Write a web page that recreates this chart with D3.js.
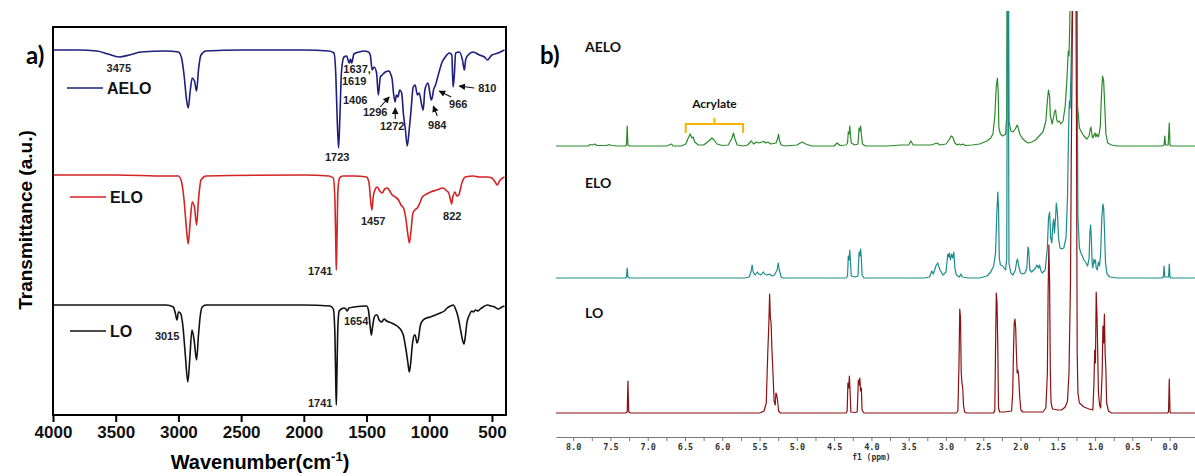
<!DOCTYPE html>
<html>
<head>
<meta charset="utf-8">
<script src="https://cdn.jsdelivr.net/npm/d3@7"></script>
<style>
  body { margin: 0; background: #fff; }
  svg { display: block; }
</style>
</head>
<body>
<svg id="fig" width="1195" height="476"></svg>
<script>
// ---- panel a) FTIR, [wavenumber, transmittance a.u.] ----
var ftirAELO = [[4000,365],[3800,365],[3650,364],[3560,361],[3475,358],[3390,360],[3300,363],[3100,364],[3000,363],[2975,357],[2955,340],[2935,315],[2922,307],[2905,325],[2890,337],[2872,334],[2855,324],[2840,345],[2820,360],[2780,364],[2500,365],[2000,365],[1800,364],[1760,362],[1745,340],[1735,300],[1723,267],[1712,300],[1700,343],[1680,358],[1660,359],[1637,352],[1628,356],[1619,352],[1600,361],[1560,363],[1520,364],[1485,363],[1470,360],[1455,345],[1440,348],[1420,342],[1406,320],[1390,338],[1375,340],[1350,343],[1320,344],[1305,340],[1296,336],[1285,322],[1272,313],[1262,320],[1250,318],[1235,325],[1220,322],[1205,300],[1190,285],[1175,269],[1160,285],[1145,305],[1128,328],[1112,330],[1095,320],[1080,322],[1060,310],[1048,305],[1035,325],[1010,332],[995,322],[984,315],[975,318],[966,325],[950,330],[928,340],[900,352],[872,358],[840,362],[820,360],[810,328],[800,340],[790,362],[760,363],[735,355],[720,345],[710,355],[690,360],[650,363],[600,360],[560,358],[535,355],[520,357],[500,360],[450,362],[400,365]];
var ftirELO = [[4000,240],[3500,240],[3100,239],[3000,239],[2975,233],[2955,215],[2935,185],[2922,171],[2905,195],[2890,213],[2872,208],[2855,190],[2840,215],[2820,235],[2780,239],[2000,240],[1800,239],[1765,237],[1752,215],[1745,170],[1741,145],[1736,175],[1728,225],[1715,237],[1690,239],[1600,239],[1500,238],[1480,232],[1468,215],[1457,205],[1447,218],[1430,226],[1415,228],[1395,224],[1375,222],[1355,226],[1335,227],[1315,224],[1295,220],[1270,218],[1245,215],[1225,210],[1205,207],[1185,195],[1170,180],[1158,172],[1145,185],[1130,202],[1115,205],[1095,207],[1075,212],[1055,218],[1020,221],[990,223],[940,225],[890,227],[860,224],[845,222],[830,215],[822,211],[812,218],[795,223],[780,219],[765,220],[740,232],[713,238],[650,239],[600,238],[540,238],[500,237],[475,233],[457,230],[440,234],[400,238]];
var ftirLO = [[4000,110],[3500,110],[3100,110],[3040,108],[3025,102],[3011,95],[3000,103],[2985,102],[2965,90],[2945,60],[2925,33],[2910,55],[2892,85],[2875,75],[2855,55],[2840,80],[2825,100],[2810,108],[2780,110],[2000,110],[1790,109],[1765,106],[1752,80],[1745,30],[1741,10],[1737,35],[1728,90],[1718,104],[1700,106],[1680,107],[1665,106],[1654,104],[1640,107],[1600,108],[1500,109],[1485,105],[1472,90],[1462,80],[1452,88],[1440,97],[1425,100],[1415,100],[1400,95],[1380,93],[1360,96],[1340,94],[1300,92],[1270,90],[1246,88],[1225,85],[1207,80],[1185,65],[1170,52],[1159,43],[1148,52],[1135,70],[1120,80],[1112,80],[1098,72],[1088,75],[1070,90],[1048,95],[1020,97],[992,98],[950,100],[912,102],[880,104],[857,107],[830,109],[808,110],[790,106],[770,98],[750,85],[735,75],[723,71],[713,78],[700,92],[680,100],[660,104],[649,103],[630,105],[610,104],[593,106],[570,108],[537,110],[510,109],[480,108],[450,106],[420,108],[400,109]];
var ftirTicks = [4000, 3500, 3000, 2500, 2000, 1500, 1000, 500];
var ftirNames = ["AELO", "ELO", "LO"];

// ---- panel b) 1H NMR, [ppm, intensity] ----
var nmrAELO = [[8.23,0],[7.80,0],[7.77,1.5],[7.74,1],[7.71,2],[7.68,0.5],[7.55,0.5],[7.52,1.5],[7.49,0.5],[7.40,0],[7.30,0],[7.285,1],[7.275,20],[7.265,1],[7.24,0],[6.75,0],[6.68,2],[6.66,0],[6.55,0],[6.49,2],[6.45,9],[6.43,12],[6.41,8],[6.39,9],[6.37,4],[6.32,1],[6.25,1],[6.18,5],[6.14,8],[6.11,6],[6.07,2],[6.00,0.5],[5.92,1],[5.87,8],[5.85,13],[5.83,7],[5.80,1],[5.72,0],[5.66,1],[5.61,5],[5.58,2],[5.54,4],[5.51,3],[5.47,4],[5.44,4.5],[5.42,3],[5.39,4],[5.35,2],[5.28,3],[5.255,8],[5.245,12],[5.235,6],[5.21,1],[5.15,0],[5.00,1],[4.93,4],[4.88,2],[4.80,0],[4.50,0],[4.46,3],[4.42,0.5],[4.34,1],[4.32,3],[4.31,14],[4.30,12],[4.29,20],[4.28,10],[4.27,3],[4.22,1],[4.18,2],[4.165,18],[4.155,15],[4.145,20],[4.135,12],[4.12,2],[4.08,0],[3.80,0],[3.60,1],[3.50,1],[3.47,5],[3.44,1],[3.35,1],[3.20,1],[3.12,3],[3.08,1],[3.00,2],[2.96,6],[2.93,10],[2.91,9],[2.88,3],[2.85,1],[2.82,2],[2.80,1],[2.77,2],[2.74,0.5],[2.65,1],[2.55,2],[2.45,5],[2.40,8],[2.37,12],[2.345,30],[2.325,60],[2.31,68],[2.30,55],[2.29,18],[2.27,12],[2.24,10],[2.20,12],[2.185,30],[2.175,300],[2.165,300],[2.155,25],[2.13,15],[2.10,14],[2.07,17],[2.045,21],[2.03,18],[2.01,12],[1.98,8],[1.94,5],[1.90,3],[1.85,4],[1.80,6],[1.75,10],[1.70,14],[1.66,25],[1.64,45],[1.625,56],[1.61,50],[1.60,30],[1.575,22],[1.56,28],[1.545,34],[1.53,36],[1.515,26],[1.50,24],[1.48,25],[1.46,22],[1.43,25],[1.40,40],[1.375,70],[1.36,95],[1.35,90],[1.34,120],[1.32,250],[1.30,300],[1.28,320],[1.26,330],[1.25,260],[1.235,40],[1.21,18],[1.19,15],[1.15,10],[1.11,7],[1.08,10],[1.065,17],[1.055,19],[1.04,10],[1.03,8],[1.01,12],[1.00,13],[0.99,9],[0.975,12],[0.96,9],[0.945,12],[0.93,20],[0.915,50],[0.90,70],[0.885,65],[0.87,40],[0.855,12],[0.83,3],[0.78,1],[0.70,0],[0.10,0],[0.075,1],[0.065,10],[0.055,1],[0.02,1],[0.005,23],[-0.005,1],[-0.02,0],[-0.34,0]];
var nmrELO = [[8.23,0],[7.30,0],[7.285,1],[7.275,10],[7.265,1],[7.24,0],[5.70,0],[5.64,1],[5.615,6],[5.60,13],[5.585,6],[5.56,3],[5.53,6],[5.51,4],[5.48,3],[5.45,6],[5.43,4],[5.40,3],[5.37,4],[5.33,2],[5.30,3],[5.265,8],[5.25,15],[5.235,8],[5.21,1],[5.18,0],[4.34,0],[4.32,2],[4.31,22],[4.30,18],[4.29,28],[4.28,15],[4.27,2],[4.22,1],[4.18,2],[4.165,26],[4.155,22],[4.145,29],[4.135,20],[4.125,3],[4.10,0],[3.30,0],[3.22,1],[3.19,7],[3.17,4],[3.13,13],[3.11,15],[3.08,8],[3.04,3],[3.00,6],[2.975,24],[2.965,21],[2.955,25],[2.94,18],[2.925,24],[2.91,20],[2.895,26],[2.88,10],[2.86,3],[2.82,1],[2.80,4],[2.78,1],[2.70,0],[2.55,0],[2.45,2],[2.40,6],[2.36,12],[2.335,25],[2.32,60],[2.305,86],[2.295,70],[2.285,20],[2.27,13],[2.24,12],[2.20,8],[2.185,20],[2.175,300],[2.165,300],[2.155,15],[2.13,5],[2.10,3],[2.07,8],[2.05,17],[2.04,19],[2.025,12],[2.00,5],[1.97,4],[1.94,5],[1.915,10],[1.90,31],[1.89,28],[1.875,8],[1.85,6],[1.80,10],[1.78,13],[1.76,10],[1.745,13],[1.73,8],[1.71,5],[1.67,8],[1.64,30],[1.625,60],[1.61,66],[1.595,40],[1.58,35],[1.565,55],[1.555,59],[1.545,45],[1.53,60],[1.52,75],[1.505,65],[1.49,40],[1.47,30],[1.45,29],[1.42,30],[1.39,40],[1.37,80],[1.355,150],[1.345,177],[1.335,170],[1.32,220],[1.30,300],[1.28,320],[1.26,330],[1.245,280],[1.23,60],[1.21,30],[1.19,25],[1.17,22],[1.15,18],[1.12,15],[1.10,12],[1.08,20],[1.07,45],[1.06,53],[1.05,40],[1.04,15],[1.03,10],[1.015,19],[1.005,15],[0.995,18],[0.985,10],[0.97,8],[0.955,16],[0.94,12],[0.925,25],[0.91,60],[0.895,74],[0.885,70],[0.875,50],[0.86,15],[0.84,4],[0.80,1],[0.70,0],[0.10,0],[0.085,1],[0.075,12],[0.065,1],[0.015,1],[0.005,14],[-0.005,1],[-0.02,0],[-0.34,0]];
var nmrLO = [[8.23,0],[7.30,0],[7.275,1],[7.265,32],[7.255,1],[7.23,0],[5.50,0],[5.44,2],[5.41,10],[5.39,60],[5.375,90],[5.365,119],[5.355,95],[5.345,90],[5.335,65],[5.32,40],[5.305,12],[5.29,8],[5.28,20],[5.27,18],[5.26,14],[5.245,2],[5.22,0],[4.34,0],[4.325,2],[4.315,30],[4.305,25],[4.295,37],[4.285,20],[4.275,1],[4.22,0.5],[4.19,1],[4.175,33],[4.165,28],[4.155,35],[4.145,22],[4.135,25],[4.125,3],[4.10,0],[2.86,0],[2.84,2],[2.825,50],[2.815,104],[2.805,95],[2.795,40],[2.785,30],[2.775,25],[2.765,8],[2.75,1],[2.72,0],[2.36,0],[2.345,3],[2.335,65],[2.325,120],[2.315,110],[2.305,67],[2.295,5],[2.28,1],[2.22,1],[2.12,2],[2.105,20],[2.095,60],[2.085,90],[2.075,94],[2.065,85],[2.055,60],[2.045,40],[2.035,43],[2.025,37],[2.01,15],[1.995,3],[1.97,1],[1.70,1],[1.66,5],[1.64,40],[1.63,120],[1.62,168],[1.61,130],[1.60,40],[1.59,10],[1.57,4],[1.50,3],[1.45,3],[1.40,6],[1.37,12],[1.35,40],[1.33,130],[1.32,250],[1.31,340],[1.30,420],[1.29,430],[1.28,440],[1.27,500],[1.26,480],[1.25,300],[1.24,60],[1.23,20],[1.21,10],[1.15,6],[1.08,4],[1.03,3],[1.015,30],[1.005,63],[0.995,50],[0.985,121],[0.975,100],[0.965,62],[0.955,20],[0.94,8],[0.925,5],[0.905,40],[0.895,87],[0.885,70],[0.875,99],[0.865,60],[0.855,43],[0.845,10],[0.82,2],[0.78,0],[0.03,0],[0.015,1],[0.005,34],[-0.005,1],[-0.02,0],[-0.34,0]];
var nmrTicks = d3.range(0, 33).map(function(i) { return 8 - i * 0.25; });
var nmrNames = ["AELO", "ELO", "LO"];

var svg = d3.select('#fig');
svg.append('rect').attr('width', 1195).attr('height', 476).attr('fill', '#fff');

// ================= panel a =================
var x = d3.scaleLinear().domain([4000, 388]).range([53, 506]);
var y = d3.scaleLinear().domain([0, 388]).range([415, 27]);
var ftirColors = ['#1e1e7c', '#d42424', '#111111'];
var line = d3.line().x(function(d) { return x(d[0]); }).y(function(d) { return y(d[1]); }).curve(d3.curveMonotoneX);

var pa = svg.append('g');
[ftirAELO, ftirELO, ftirLO].forEach(function(s, i) {
  pa.append('path').datum(s).attr('d', line)
    .attr('fill', 'none').attr('stroke', ftirColors[i]).attr('stroke-width', 1.6);
});

pa.append('rect').attr('x', 53).attr('y', 27).attr('width', 453).attr('height', 388)
  .attr('fill', 'none').attr('stroke', '#000').attr('stroke-width', 2);

var xAxis = pa.append('g').attr('transform', 'translate(0,415)')
  .call(d3.axisBottom(x).tickValues(ftirTicks).tickFormat(d3.format('d')).tickSize(7).tickSizeOuter(0).tickPadding(4));
xAxis.select('.domain').remove();
xAxis.selectAll('line').attr('stroke', '#000').attr('stroke-width', 2);
xAxis.selectAll('text').attr('font-family', 'Liberation Sans, Arial, sans-serif')
  .attr('font-size', 17).attr('font-weight', 'bold').attr('fill', '#111');

var xt = pa.append('text').attr('x', 260).attr('y', 469).attr('text-anchor', 'middle')
  .attr('font-family', 'Liberation Sans, Arial, sans-serif').attr('font-size', 20).attr('font-weight', 'bold');
xt.append('tspan').text('Wavenumber(cm');
xt.append('tspan').attr('font-size', 13).attr('dy', -8).text('-1');
xt.append('tspan').attr('dy', 8).text(')');

pa.append('text').attr('transform', 'translate(32,220) rotate(-90)').attr('text-anchor', 'middle')
  .attr('font-family', 'Liberation Sans, Arial, sans-serif').attr('font-size', 19).attr('font-weight', 'bold')
  .text('Transmittance (a.u.)');

pa.append('text').attr('x', 26).attr('y', 64).attr('font-family', 'Lato, sans-serif')
  .attr('font-size', 24).attr('font-weight', 'bold').text('a)');

// legend
var legY = [88, 197, 331];
var legX = [67, 70, 70];
ftirNames.forEach(function(n, i) {
  pa.append('line').attr('x1', legX[i]).attr('x2', legX[i] + 36).attr('y1', legY[i]).attr('y2', legY[i])
    .attr('stroke', ftirColors[i]).attr('stroke-width', 1.6);
  pa.append('text').attr('x', legX[i] + 40).attr('y', legY[i] + 6)
    .attr('font-family', 'Liberation Sans, Arial, sans-serif').attr('font-size', 16).attr('font-weight', 'bold')
    .attr('fill', '#111').text(n);
});

// peak labels: [text, wavenumber, T]
var ftirLabels = [['3475',3475,347],['1637,',1575,346],['1619',1598,334],['1406',1590,315],['1296',1431,303],
  ['1272',1295,289],['984',936,290],['966',769,311],['810',537,327],['1723',1734,258],
  ['1457',1447,194],['822',817,199],['1741',1870,144],['3015',3090,79],['1654',1583,94],['1741',1870,12]];
ftirLabels.forEach(function(l) {
  pa.append('text').attr('x', x(l[1])).attr('y', y(l[2]) + 4).attr('text-anchor', 'middle')
    .attr('font-family', 'Liberation Sans, Arial, sans-serif').attr('font-size', 11).attr('font-weight', 'bold')
    .attr('fill', '#222').text(l[0]);
});

svg.append('defs').append('marker').attr('id', 'ah').attr('viewBox', '0 0 10 10')
  .attr('refX', 9).attr('refY', 5).attr('markerWidth', 6).attr('markerHeight', 6).attr('orient', 'auto')
  .append('path').attr('d', 'M0,0L10,5L0,10z').attr('fill', '#111');
var ftirArrows = [[[1391,308],[1319,318]], [[1271,296],[1271,307]], [[936,299],[968,309]],
  [[825,318],[920,324]], [[641,327],[761,329]]];
ftirArrows.forEach(function(a) {
  pa.append('line').attr('x1', x(a[0][0])).attr('y1', y(a[0][1])).attr('x2', x(a[1][0])).attr('y2', y(a[1][1]))
    .attr('stroke', '#111').attr('stroke-width', 1.1).attr('marker-end', 'url(#ah)');
});

// ================= panel b =================
var xN = d3.scaleLinear().domain([8.23, -0.34]).range([556, 1195]);
var yN = d3.scaleLinear().domain([0, 100]).range([413, 313]);
var nmrColors = ['#2b8a2b', '#1c8c8c', '#8a1212'];
var nmrOffsets = [267, 135, 0];

var defs = svg.select('defs');
defs.append('clipPath').attr('id', 'nclip').append('rect')
  .attr('x', 556).attr('y', 11).attr('width', 639).attr('height', 430);

var pb = svg.append('g');
var plot = pb.append('g').attr('clip-path', 'url(#nclip)');
[nmrAELO, nmrELO, nmrLO].forEach(function(s, i) {
  var ln = d3.line().x(function(d) { return xN(d[0]); }).y(function(d) { return yN(d[1] + nmrOffsets[i]); });
  plot.append('path').datum(s).attr('d', ln)
    .attr('fill', 'none').attr('stroke', nmrColors[i]).attr('stroke-width', 1.2).attr('stroke-linejoin', 'round');
});

var nAxis = pb.append('g').attr('transform', 'translate(0,437)')
  .call(d3.axisBottom(xN).tickValues(nmrTicks).tickSize(4).tickSizeOuter(0).tickPadding(3)
    .tickFormat(function(d) { return Math.abs(d * 2 - Math.round(d * 2)) < 1e-6 ? d3.format('.1f')(d) : ''; }));
nAxis.select('.domain').attr('stroke', '#777');
nAxis.selectAll('line').attr('stroke', '#777');
nAxis.selectAll('text').attr('font-family', 'DejaVu Sans Mono, monospace').attr('font-size', 8.5)
  .attr('font-weight', 'bold').attr('fill', '#333');
pb.append('text').attr('x', xN(4.0)).attr('y', 460).attr('text-anchor', 'middle')
  .attr('font-family', 'DejaVu Sans Mono, monospace').attr('font-size', 8).attr('font-weight', 'bold')
  .attr('fill', '#333').text('f1 (ppm)');

pb.append('text').attr('x', 540).attr('y', 64).attr('font-family', 'Lato, sans-serif')
  .attr('font-size', 24).attr('font-weight', 'bold').text('b)');

var nmrLabelY = [52, 188, 318];
nmrNames.forEach(function(n, i) {
  pb.append('text').attr('x', 585).attr('y', nmrLabelY[i]).attr('font-family', 'Lato, sans-serif')
    .attr('font-size', 14).attr('font-weight', 'bold').attr('fill', '#111').text(n);
});

// acrylate bracket
var br = [6.49, 5.72];
var bx0 = xN(br[0]), bx1 = xN(br[1]), bm = (bx0 + bx1) / 2;
pb.append('path')
  .attr('d', 'M' + bx0 + ',133 L' + bx0 + ',124 L' + bx1 + ',124 L' + bx1 + ',133 M' + bm + ',124 L' + bm + ',118')
  .attr('fill', 'none').attr('stroke', '#f5b400').attr('stroke-width', 2);
pb.append('text').attr('x', bm).attr('y', 108).attr('text-anchor', 'middle')
  .attr('font-family', 'Lato, sans-serif').attr('font-size', 12).attr('font-weight', 'bold')
  .attr('fill', '#111').text('Acrylate');
</script>
</body>
</html>
